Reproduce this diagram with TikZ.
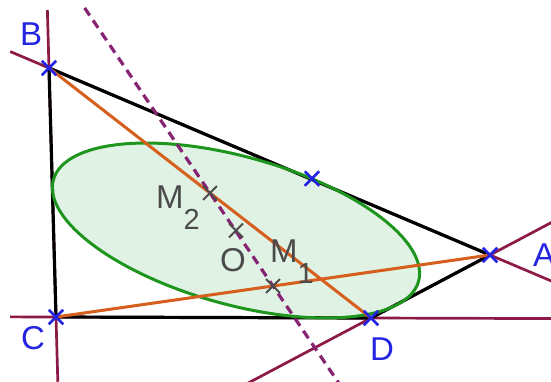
\documentclass[tikz,border=0pt]{standalone}
\usepackage{fontspec}
\setmainfont{Liberation Sans}
\usetikzlibrary{calc,shapes.misc}
\definecolor{maroonline}{RGB}{140,25,70}
\definecolor{dashpurple}{RGB}{135,35,115}
\definecolor{diagorange}{RGB}{215,95,30}
\definecolor{ellgreen}{RGB}{30,150,30}
\definecolor{ellfill}{RGB}{224,242,228}
\definecolor{ptblue}{RGB}{35,35,225}
\definecolor{ptgray}{RGB}{75,75,75}
\tikzset{
  extline/.style={maroonline, line width=2.7pt},
  sideline/.style={black, line width=3.2pt},
  diagline/.style={diagorange, line width=3pt},
  newtonline/.style={dashpurple, line width=3.2pt, dash pattern=on 9pt off 6pt},
  ellstyle/.style={ellgreen, line width=3pt},
  bluecross/.style={cross out, draw=ptblue, line width=2.5pt, minimum size=12pt, inner sep=0pt},
  graycross/.style={cross out, draw=ptgray, line width=1.8pt, minimum size=12pt, inner sep=0pt},
  bluelab/.style={text=ptblue, font=\fontsize{33}{33}\selectfont, inner sep=0pt, anchor=base west},
  graylab/.style={text=ptgray, font=\fontsize{33}{33}\selectfont, inner sep=0pt, anchor=base west},
  subfont/.style={font=\fontsize{29}{29}\selectfont},
}
\begin{document}
\begin{tikzpicture}[x=1pt,y=-1pt]
\useasboundingbox (0,0) rectangle (551,381);
% points
\coordinate (B) at (49,68);
\coordinate (C) at (56,317);
\coordinate (D) at (371,318);
\coordinate (A) at (490,255);
\coordinate (T) at (312,178.5);
\coordinate (M2) at ($(B)!0.5!(D)$);
\coordinate (M1) at ($(C)!0.5!(A)$);
\coordinate (O) at (236,230.5);
% ellipse fill
\fill[ellfill, rotate around={-15.55:(O)}] (O) ellipse [x radius=189.5pt, y radius=73.9pt];
% extended lines
\coordinate (bcTop) at ($(B)!-0.233!(C)$);
\coordinate (bcBot) at ($(B)!1.26!(C)$);
\coordinate (baL) at ($(B)!-0.088!(A)$);
\coordinate (baR) at ($(B)!1.15!(A)$);
\coordinate (cdL) at ($(C)!-0.146!(D)$);
\coordinate (cdR) at ($(C)!1.58!(D)$);
\coordinate (daL) at ($(D)!-1.08!(A)$);
\coordinate (daR) at ($(D)!1.55!(A)$);
\draw[extline] (bcTop) -- (bcBot);
\draw[extline] (baL) -- (baR);
\draw[extline] (cdL) -- (cdR);
\draw[extline] (daL) -- (daR);
% sides
\draw[sideline, line join=round] (B) -- (C) -- (D) -- (A) -- cycle;
% ellipse border
\draw[ellstyle, rotate around={-15.55:(O)}] (O) ellipse [x radius=189.5pt, y radius=73.9pt];
% diagonals
\draw[diagline] (B) -- (D);
\draw[diagline] (C) -- (A);
% Newton line
\coordinate (dTop) at ($(M2)!-1.99!(M1)$);
\coordinate (dBot) at ($(M2)!2.05!(M1)$);
\draw[newtonline] (dTop) -- (dBot);
% crosses
\node[bluecross] (xB) at (B) {};
\node[bluecross] (xC) at (C) {};
\node[bluecross] (xD) at (D) {};
\node[bluecross] (xA) at (A) {};
\node[bluecross] (xT) at (T) {};
\node[graycross] (xM2) at (M2) {};
\node[graycross] (xM1) at (M1) {};
\node[graycross] (xO) at (O) {};
% labels
\node[bluelab] (lB) at (20,45.5) {B};
\node[bluelab] (lC) at (21,349.5) {C};
\node[bluelab] (lD) at (370,360.5) {D};
\node[bluelab] (lA) at (533,266.5) {A};
\node[graylab] (lM2) at (156,208) {M\raisebox{-21pt}{\fontsize{29}{29}\selectfont 2}};
\node[graylab] (lO) at (220,271) {O};
\node[graylab] (lM1) at (270,262) {M\raisebox{-21pt}{\fontsize{29}{29}\selectfont 1}};
\end{tikzpicture}
\end{document}
